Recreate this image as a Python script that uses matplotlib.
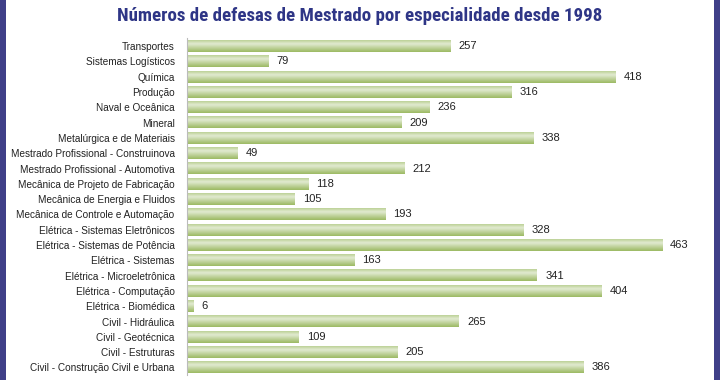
import matplotlib.pyplot as plt
import matplotlib.patches as mpatches
from matplotlib import font_manager
import numpy as np
from matplotlib.colors import LinearSegmentedColormap

# Data (top to bottom)
categories = [
    'Transportes', 'Sistemas Logísticos', 'Química', 'Produção',
    'Naval e Oceânica', 'Mineral', 'Metalúrgica e de Materiais',
    'Mestrado Profissional - Construinova', 'Mestrado Profissional - Automotiva',
    'Mecânica de Projeto de Fabricação', 'Mecânica de Energia e Fluidos',
    'Mecânica de Controle e Automação', 'Elétrica - Sistemas Eletrônicos',
    'Elétrica - Sistemas de Potência', 'Elétrica - Sistemas',
    'Elétrica - Microeletrônica', 'Elétrica - Computação',
    'Elétrica - Biomédica', 'Civil - Hidráulica', 'Civil - Geotécnica',
    'Civil - Estruturas', 'Civil - Construção Civil e Urbana',
]
defesas = [257, 79, 418, 316, 236, 209, 338, 49, 212, 118, 105, 193,
           328, 463, 163, 341, 404, 6, 265, 109, 205, 386]

title = 'Números de defesas de Mestrado por especialidade desde 1998'

# pick a condensed font for the title if one is installed
installed = {f.name for f in font_manager.fontManager.ttflist}
title_font = 'Liberation Sans'
for cand in ['Liberation Sans Narrow', 'DejaVu Sans Condensed', 'Roboto Condensed',
             'Open Sans Condensed', 'Noto Sans Condensed']:
    if cand in installed:
        title_font = cand
        break

fig = plt.figure(figsize=(7.2, 3.8), dpi=100)
fig.patch.set_facecolor('white')

# dark blue side strips of the slide frame
for x0 in (0.0, 714 / 720):
    fig.patches.append(mpatches.Rectangle((x0, 0), 6 / 720, 1, transform=fig.transFigure,
                                          facecolor='#3f3f88', edgecolor='none', zorder=0))

n = len(categories)
row_h = 15.3
ax_top = 38.5
ax = fig.add_axes([187 / 720, (380 - ax_top - n * row_h) / 380, 513 / 720, n * row_h / 380])

green = LinearSegmentedColormap.from_list(
    'bar', [(0.0, '#bcd196'), (0.3, '#e2ebd2'), (1.0, '#9cba63')])
grad = np.linspace(0, 1, 32).reshape(-1, 1)

y = np.arange(n)
bar_h = 0.76
bars = ax.barh(y, defesas, height=bar_h, color='none', edgecolor='none')
for bar, v in zip(bars, defesas):
    x0, y0 = bar.get_x(), bar.get_y()
    w, h = bar.get_width(), bar.get_height()
    ax.imshow(grad, cmap=green, aspect='auto', extent=(x0, x0 + w, y0 + h, y0),
              interpolation='bicubic', zorder=2)
    ax.text(v + 8, y0 + h / 2, str(v), va='center', ha='left',
            fontsize=8, color='#222222', family='Liberation Sans')

ax.set_xlim(0, 500)
ax.set_ylim(n - 0.5, -0.5)
ax.set_yticks(y)
ax.set_yticklabels(categories, fontsize=7.2, color='#222222', family='Liberation Sans')
ax.tick_params(axis='y', length=0, pad=9)
ax.set_xticks([])
for s in ('top', 'right', 'bottom'):
    ax.spines[s].set_visible(False)
ax.spines['left'].set_color('#bbbbbb')
ax.spines['left'].set_linewidth(0.8)

t = fig.text(0.499, 0.958, title, ha='center', va='center', fontsize=15,
             fontweight='bold', color='#2e3586', family=title_font)

# shrink the title until it spans about the same width as in the reference
renderer = fig.canvas.get_renderer()
target_w = 484
w = t.get_window_extent(renderer).width
if w > target_w:
    t.set_fontsize(15 * target_w / w)

fig.savefig('out.png', dpi=100)
